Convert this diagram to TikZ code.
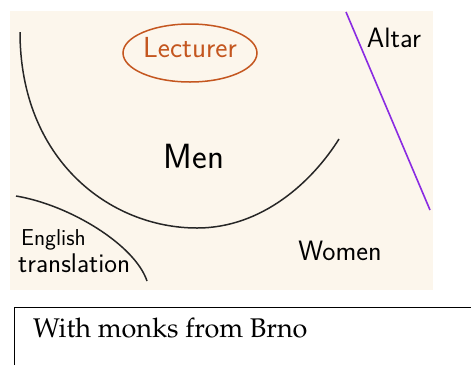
\documentclass[tikz,border=0pt]{standalone}
\usepackage[T1,TU]{fontenc}
\usepackage{tikz}
\definecolor{paper}{HTML}{FCF6EC}
\definecolor{lectorange}{HTML}{C4561F}
\definecolor{altarviolet}{HTML}{8A2BE2}

\begin{document}
\begin{tikzpicture}[
    x=1pt, y=-1pt,
    hand/.style={font=\sffamily\fontsize{#1}{#1}\selectfont, inner sep=0pt},
    pew/.style={draw=black!85, line width=1.5pt},
    ring/.style={draw=lectorange, line width=1.5pt},
    altarwall/.style={draw=altarviolet, line width=1.6pt},
]
  \useasboundingbox (0,0) rectangle (471,365);
  \fill[paper] (10,11) rectangle (433,290);

  % lecturer and the men's half circle
  \draw[ring] (190,53) ellipse [x radius=67, y radius=29];
  \node[hand=29, text=lectorange] (lecturer) at (190,48) {Lecturer};
  \draw[pew] (20,32) .. controls (20,160) and (110,228) .. (197,228)
                     .. controls (262,228) and (312,182) .. (339,139);
  \node[hand=35] (men) at (194,156) {Men};
  \node[hand=28] (women) at (340,251) {Women};

  % translation corner
  \draw[pew] (16,196) .. controls (70,205) and (135,245) .. (147,281);
  \node[hand=23, anchor=base west] (english) at (21,245) {English};
  \node[hand=27, anchor=base west] (translation) at (18,272) {translation};

  % altar
  \draw[altarwall] (346,12) -- (430,210);
  \node[hand=28] (altar) at (394,38) {Altar};

  % caption box below
  \draw[line width=0.9pt] (14,365) -- (14,307) -- (471,307);
  \node[anchor=base west, inner sep=0pt,
        font=\fontencoding{T1}\fontfamily{ppl}\fontsize{27}{27}\selectfont]
    (caption) at (33,337) {With monks from Brno};
\end{tikzpicture}
\end{document}
